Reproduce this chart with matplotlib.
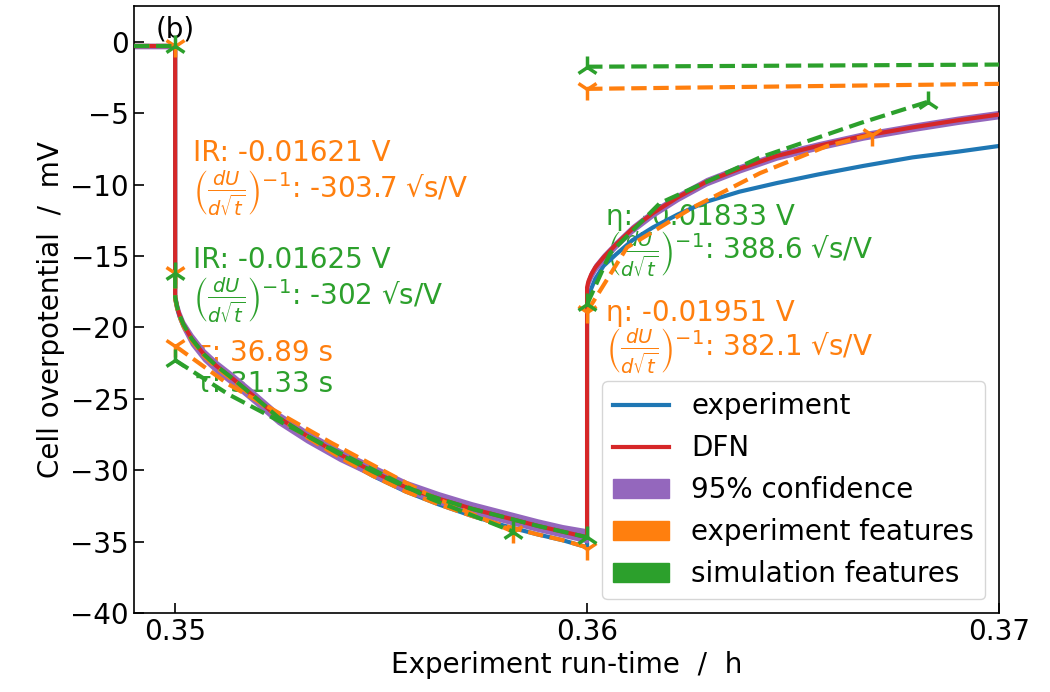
import matplotlib
matplotlib.use("Agg")
import matplotlib.pyplot as plt
from matplotlib.lines import Line2D
from matplotlib.patches import Patch

# ---------------- data ----------------
# rest period before the pulse
t_rest = [0.349, 0.35]
u_rest = [-0.3, -0.3]

# pulse (decay) segment
t_dec = [0.35, 0.35005, 0.3501, 0.3502, 0.3504, 0.3507, 0.3510, 0.3514, 0.3519,
         0.3525, 0.3532, 0.3540, 0.3548, 0.3556, 0.3564, 0.3572, 0.3580, 0.3588,
         0.3594, 0.3600]
u_dec_exp = [-18.0, -18.7, -19.2, -19.9, -20.9, -22.0, -22.8, -23.7, -24.9,
             -26.3, -27.7, -29.1, -30.4, -31.5, -32.4, -33.2, -33.9, -34.5,
             -34.9, -35.4]
u_dec_dfn = [-17.9, -18.6, -19.1, -19.8, -20.8, -21.9, -22.7, -23.6, -24.8,
             -26.3, -27.6, -28.9, -30.1, -31.2, -32.0, -32.7, -33.3, -33.9,
             -34.3, -34.7]
conf_dec_lo = [-18.1, -18.8, -19.4, -20.1, -21.2, -22.3, -23.1, -24.0, -25.2,
               -26.7, -28.0, -29.3, -30.4, -31.5, -32.3, -33.0, -33.6, -34.2,
               -34.6, -35.0]
conf_dec_hi = [-17.7, -18.4, -18.9, -19.6, -20.5, -21.6, -22.4, -23.3, -24.5,
               -26.0, -27.3, -28.6, -29.7, -30.8, -31.6, -32.3, -32.9, -33.5,
               -33.9, -34.2]

# relaxation segment
t_rel = [0.36, 0.36003, 0.3601, 0.3602, 0.3604, 0.3607, 0.3611, 0.3616, 0.3622,
         0.3629, 0.3637, 0.3646, 0.3656, 0.3667, 0.3679, 0.3690, 0.3700]
u_rel_exp = [-18.9, -18.0, -17.3, -16.6, -15.7, -14.9, -13.9, -13.0, -12.1,
             -11.2, -10.5, -9.9, -9.3, -8.7, -8.1, -7.7, -7.3]
u_rel_dfn = [-17.2, -16.8, -16.3, -15.8, -15.1, -14.2, -13.1, -12.0, -10.9,
             -9.8, -8.9, -8.0, -7.3, -6.6, -6.0, -5.5, -5.1]
conf_rel_lo = [-17.4, -17.0, -16.5, -16.0, -15.3, -14.4, -13.3, -12.2, -11.1,
               -10.0, -9.1, -8.2, -7.5, -6.8, -6.2, -5.7, -5.3]
conf_rel_hi = [-17.0, -16.6, -16.1, -15.6, -14.9, -14.0, -12.9, -11.8, -10.7,
               -9.6, -8.7, -7.8, -7.1, -6.4, -5.8, -5.3, -4.9]

# experiment features (orange)
ef_ir_u = -16.2
ef_tau_t = [0.35, 0.3513, 0.3538, 0.3562, 0.3582]
ef_tau_u = [-21.3, -24.0, -28.1, -31.8, -34.3]
ef_relax_t = [0.36, 0.36097, 0.36257, 0.3642, 0.36583, 0.36692]
ef_relax_u = [-18.9, -14.4, -11.6, -9.2, -7.3, -6.5]
ef_asym_t = [0.36, 0.37]
ef_asym_u = [-3.3, -2.95]
ef_mark_t = [0.35, 0.35, 0.35, 0.3582, 0.36, 0.36, 0.36692, 0.36]
ef_mark_u = [-0.3, -16.2, -21.3, -34.3, -35.5, -18.9, -6.5, -3.3]

# simulation features (green)
sf_ir_u = -16.2
sf_tau_t = [0.35, 0.3513, 0.3538, 0.3562, 0.3582]
sf_tau_u = [-22.3, -24.7, -28.5, -32.0, -34.3]
sf_relax_t = [0.36, 0.36056, 0.36177, 0.3642, 0.36663, 0.36828]
sf_relax_u = [-18.4, -14.8, -11.3, -8.1, -5.7, -4.2]
sf_asym_t = [0.36, 0.37]
sf_asym_u = [-1.75, -1.6]
sf_mark_t = [0.35, 0.35, 0.35, 0.3582, 0.36, 0.36, 0.36828, 0.36]
sf_mark_u = [-0.3, -16.2, -22.3, -34.3, -34.7, -18.4, -4.2, -1.75]

xticks = [0.35, 0.36, 0.37]
yticks = [0, -5, -10, -15, -20, -25, -30, -35, -40]

C_EXP = '#1f77b4'
C_DFN = '#d62728'
C_CONF = '#9467bd'
C_EF = '#ff7f0e'
C_SF = '#2ca02c'

plt.rcParams['font.family'] = ['DejaVu Sans']
FS = 20

# full curves
t_exp = t_rest + [0.35] + t_dec + t_rel
u_exp = u_rest + [ef_ir_u] + u_dec_exp + u_rel_exp
t_dfn = t_rest + t_dec + t_rel
u_dfn = u_rest + u_dec_dfn + u_rel_dfn
t_conf = t_rest + t_dec + t_rel
c_lo = [u - 0.1 for u in u_rest] + conf_dec_lo + conf_rel_lo
c_hi = [u + 0.1 for u in u_rest] + conf_dec_hi + conf_rel_hi

fig = plt.figure(figsize=(10.5, 6.92), dpi=100)
ax = fig.add_axes([0.1276, 0.1142, 0.8238, 0.8771])

lw = 3
ax.plot(t_exp, u_exp, color=C_EXP, lw=lw, zorder=2)
ax.fill_between(t_conf, c_lo, c_hi, color=C_CONF, lw=2.0, edgecolor=C_CONF, zorder=2.5)
ax.plot(t_dfn, u_dfn, color=C_DFN, lw=lw, zorder=3)

mk = dict(ms=16, mew=2.5, ls='none')
# experiment features
ax.plot(t_rest, u_rest, '--', color=C_EF, lw=lw, zorder=4)
ax.plot([0.35] + t_dec, [ef_ir_u] + u_dec_exp, '--', color=C_EF, lw=lw, zorder=4)
ax.plot(ef_tau_t, ef_tau_u, '--', color=C_EF, lw=lw, zorder=4)
ax.plot(ef_relax_t, ef_relax_u, '--', color=C_EF, lw=lw, zorder=4)
ax.plot(ef_asym_t, ef_asym_u, '--', color=C_EF, lw=lw, zorder=4)
ax.plot(ef_mark_t, ef_mark_u, marker='1', color=C_EF, zorder=4, **mk)
# simulation features
ax.plot(t_rest, u_rest, '--', color=C_SF, lw=lw, zorder=5)
ax.plot([0.35] + t_dec, [sf_ir_u] + u_dec_dfn, '--', color=C_SF, lw=lw, zorder=5)
ax.plot(sf_tau_t, sf_tau_u, '--', color=C_SF, lw=lw, zorder=5)
ax.plot(sf_relax_t, sf_relax_u, '--', color=C_SF, lw=lw, zorder=5)
ax.plot(sf_asym_t, sf_asym_u, '--', color=C_SF, lw=lw, zorder=5)
ax.plot(sf_mark_t, sf_mark_u, marker='2', color=C_SF, zorder=5, **mk)

frac = r'$\left(\frac{dU}{d\sqrt{t}}\right)^{-1}$'
tk = dict(fontsize=FS, ha='left', va='center', zorder=1)
ax.text(0.35044, -7.8, 'IR: -0.01621 V', color=C_EF, **tk)
ax.text(0.35044, -10.6, frac + ': -303.7 √s/V', color=C_EF, **tk)
ax.text(0.35044, -15.3, 'IR: -0.01625 V', color=C_SF, **tk)
ax.text(0.35044, -18.1, frac + ': -302 √s/V', color=C_SF, **tk)
ax.text(0.35047, -21.8, 'τ: 36.89 s', color=C_EF, **tk)
ax.text(0.35047, -24.0, 'τ: 31.33 s', color=C_SF, **tk)
ax.text(0.36046, -12.25, 'η: -0.01833 V', color=C_SF, **tk)
ax.text(0.36046, -14.9, frac + ': 388.6 √s/V', color=C_SF, **tk)
ax.text(0.36046, -19.0, 'η: -0.01951 V', color=C_EF, **tk)
ax.text(0.36046, -21.7, frac + ': 382.1 √s/V', color=C_EF, **tk)
ax.text(0.35, 0.85, '(b)', fontsize=FS, ha='center', va='center')

ax.set_xlim(0.349, 0.37)
ax.set_ylim(-40, 2.5)
ax.set_xticks(xticks)
ax.set_xticklabels([f'{v:.2f}' for v in xticks])
ax.set_yticks(yticks)
ax.tick_params(direction='in', length=7, width=1.2, labelsize=FS)
for s in ax.spines.values():
    s.set_linewidth(1.2)
ax.set_xlabel('Experiment run-time  /  h', fontsize=FS)
ax.set_ylabel('Cell overpotential  /  mV', fontsize=FS)

handles = [Line2D([], [], color=C_EXP, lw=lw), Line2D([], [], color=C_DFN, lw=lw),
           Patch(color=C_CONF), Patch(color=C_EF), Patch(color=C_SF)]
labels = ['experiment', 'DFN', '95% confidence', 'experiment features', 'simulation features']
ax.legend(handles, labels, loc='lower right', fontsize=FS)

fig.savefig('out.png', dpi=100)
